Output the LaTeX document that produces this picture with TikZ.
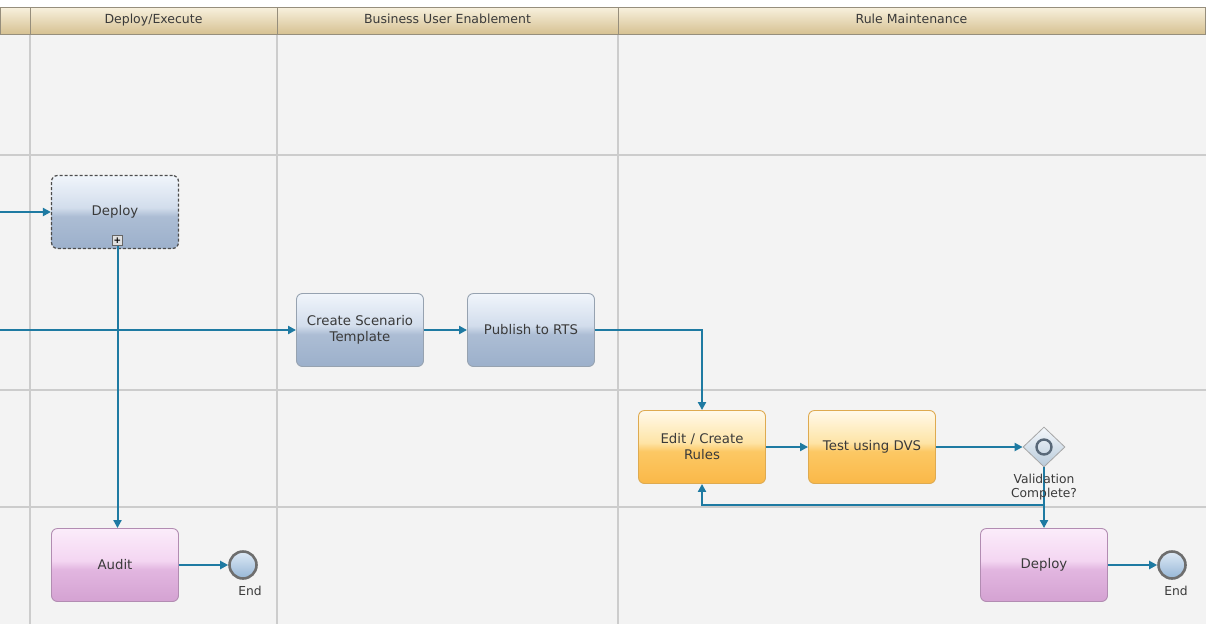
\documentclass[tikz,border=0pt]{standalone}
\usepackage{fontspec}
\setmainfont{DejaVu Sans}
\usetikzlibrary{arrows.meta,shapes.geometric}
\definecolor{flowblue}{RGB}{30,122,162}
\definecolor{lanebg}{RGB}{243,243,243}
\definecolor{laneline}{RGB}{204,204,204}
\definecolor{hdrtop}{RGB}{248,241,222}
\definecolor{hdrbot}{RGB}{214,193,146}
\definecolor{hdrline}{RGB}{150,142,124}
\definecolor{bluetop}{RGB}{240,245,251}
\definecolor{bluehigh}{RGB}{210,221,236}
\definecolor{bluelow}{RGB}{172,189,212}
\definecolor{bluebot}{RGB}{156,176,203}
\definecolor{pinktop}{RGB}{251,236,250}
\definecolor{pinkhigh}{RGB}{244,214,242}
\definecolor{pinklow}{RGB}{226,182,224}
\definecolor{pinkbot}{RGB}{212,162,210}
\definecolor{orgtop}{RGB}{255,249,234}
\definecolor{orghigh}{RGB}{254,228,166}
\definecolor{orglow}{RGB}{252,200,100}
\definecolor{orgbot}{RGB}{250,184,72}
\definecolor{blueedge}{RGB}{150,162,176}
\definecolor{pinkedge}{RGB}{178,140,178}
\definecolor{orgedge}{RGB}{222,170,80}
\definecolor{txt}{RGB}{58,58,58}
\definecolor{gwtop}{RGB}{244,248,252}
\definecolor{gwbot}{RGB}{184,202,218}
\definecolor{ringline}{RGB}{88,104,120}
\definecolor{endtop}{RGB}{222,234,246}
\definecolor{endbot}{RGB}{150,182,214}
\definecolor{endline}{RGB}{110,110,110}
\pgfdeclareverticalshading{blueshade}{100bp}{color(0bp)=(bluebot); color(25bp)=(bluebot); color(47bp)=(bluelow); color(53bp)=(bluehigh); color(75bp)=(bluetop); color(100bp)=(bluetop)}
\pgfdeclareverticalshading{pinkshade}{100bp}{color(0bp)=(pinkbot); color(25bp)=(pinkbot); color(47bp)=(pinklow); color(53bp)=(pinkhigh); color(75bp)=(pinktop); color(100bp)=(pinktop)}
\pgfdeclareverticalshading{orgshade}{100bp}{color(0bp)=(orgbot); color(25bp)=(orgbot); color(47bp)=(orglow); color(53bp)=(orghigh); color(75bp)=(orgtop); color(100bp)=(orgtop)}

\begin{document}
\begin{tikzpicture}[x=1pt,y=-1pt,
  header/.style={draw=hdrline, line width=0.8pt, top color=hdrtop, bottom color=hdrbot,
    minimum height=27pt, inner sep=0pt, text height=9pt, text depth=2.5pt,
    text=txt, font=\fontsize{12.5}{14}\selectfont},
  task/.style={rounded corners=6pt, draw=blueedge, line width=0.9pt, shade,
    minimum width=127pt, minimum height=73pt, inner sep=2pt, align=center,
    text=txt, font=\fontsize{13.3}{16}\selectfont},
  bluetask/.style={task, shading=blueshade},
  pinktask/.style={task, shading=pinkshade, draw=pinkedge},
  orgtask/.style={task, shading=orgshade, draw=orgedge},
  endevent/.style={circle, draw=endline, line width=2.6pt, top color=endtop, bottom color=endbot,
    minimum size=27pt, inner sep=0pt},
  lbl/.style={text=txt, inner sep=0pt, align=center, font=\fontsize{12.3}{14}\selectfont},
  flow/.style={draw=flowblue, line width=2pt, -{Triangle[length=8pt,width=8pt]}}]
\useasboundingbox (0,0) rectangle (1206,624);
\fill[white] (0,0) rectangle (1206,624);
\fill[lanebg] (0,34) rectangle (1206,624);
\draw[laneline, line width=1.2pt] (0,155) -- (1206,155);
\draw[laneline, line width=1.2pt] (0,390) -- (1206,390);
\draw[laneline, line width=1.2pt] (0,507) -- (1206,507);
\draw[laneline, line width=1.6pt] (30,34) -- (30,624);
\draw[laneline, line width=1.6pt] (277,34) -- (277,624);
\draw[laneline, line width=1.6pt] (618,34) -- (618,624);

\node[header, minimum width=30pt] (hstub) at (15,20.5) {};
\node[header, minimum width=247pt] (hdeploy) at (153.5,20.5) {Deploy/Execute};
\node[header, minimum width=341pt] (hbusiness) at (447.5,20.5) {Business User Enablement};
\node[header, minimum width=587pt] (hrules) at (911.5,20.5) {Rule Maintenance};

\node[bluetask, dashed, dash pattern=on 3pt off 2pt, draw=black!70, line width=1.2pt] (deploytop) at (115,212) {Deploy};
\node[draw=black!60, fill=black!12, line width=0.6pt, minimum size=10pt, inner sep=0pt,
  font=\fontsize{9}{9}\selectfont\bfseries] (deployplus) at (117.5,240.5) {+};
\node[pinktask] (audit) at (115,565) {Audit};
\node[endevent] (endaudit) at (243,565) {};
\node[lbl] (endauditlbl) at (250,591) {End};

\node[bluetask] (scenario) at (360,330) {Create Scenario\\Template};
\node[bluetask] (publish) at (531,330) {Publish to RTS};

\node[orgtask] (editrules) at (702,447) {Edit / Create\\Rules};
\node[orgtask] (testdvs) at (872,447) {Test using DVS};
\node[diamond, draw=black!35, line width=0.8pt, top color=gwtop, bottom color=gwbot,
  minimum width=42pt, minimum height=40pt, inner sep=0pt] (validate) at (1044,447) {};
\node[circle, draw=ringline, line width=2.4pt, minimum size=15pt, inner sep=0pt] (validatering) at (validate) {};
\node[pinktask] (deployend) at (1044,565) {Deploy};
\node[endevent] (endrules) at (1172,565) {};
\node[lbl] (endruleslbl) at (1176,591) {End};

\coordinate (intop) at (0,212);
\coordinate (inmid) at (0,330);
\coordinate (loopback) at (1044,505);

\draw[flow] (intop) -- (deploytop);
\draw[flow] (deployplus.south) -- (deployplus.south |- audit.north);
\draw[flow] (audit) -- (endaudit);
\draw[flow] (inmid) -- (scenario);
\draw[flow] (scenario) -- (publish);
\draw[flow] (publish.east) -| (editrules.north);
\draw[flow] (editrules) -- (testdvs);
\draw[flow] (testdvs) -- (validate);
\draw[flow] (validate.south) -- (deployend.north);
\draw[flow] (loopback) -| (editrules.south);
\draw[flow] (deployend) -- (endrules);
\node[lbl] (validatelbl) at (1044,487.5) {Validation\\Complete?};
\end{tikzpicture}
\end{document}
